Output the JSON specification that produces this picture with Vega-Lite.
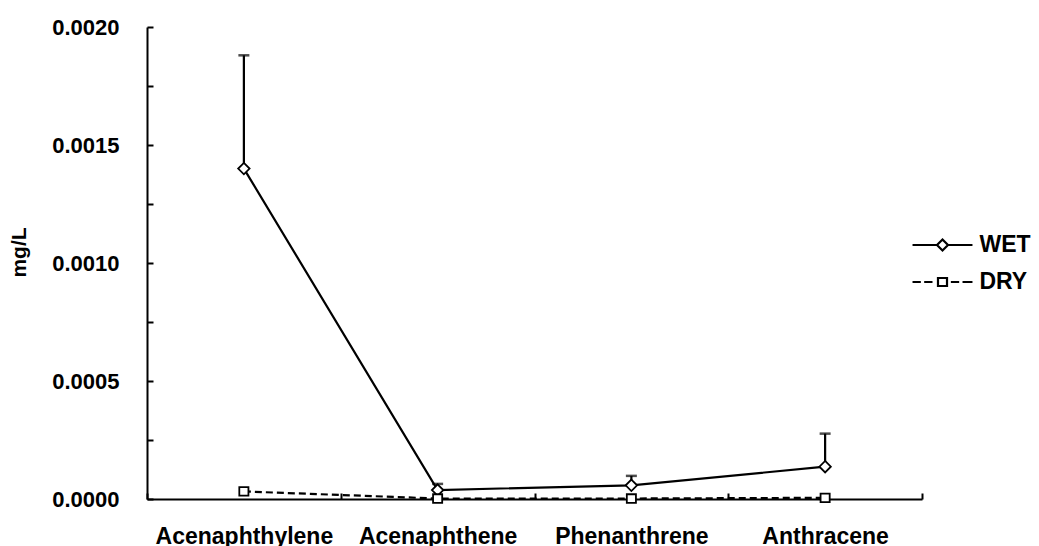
{
  "$schema": "https://vega.github.io/schema/vega-lite/v6.json",
  "width": 775,
  "height": 472,
  "autosize": {"type": "none"},
  "padding": {"left": 147, "top": 27, "right": 117, "bottom": 47},
  "background": "white",
  "config": {
    "view": {"stroke": null},
    "font": "Liberation Sans",
    "axis": {"grid": false, "domainColor": "black", "domainWidth": 2, "tickColor": "black", "tickWidth": 2, "labelColor": "black", "labelFontWeight": "bold", "labelFont": "Liberation Sans", "titleFont": "Liberation Sans", "titleColor": "black"}
  },
  "data": {
    "values": [
      {"compound": "Acenaphthylene", "series": "WET", "value": 0.0014, "upper": 0.00188},
      {"compound": "Acenaphthene", "series": "WET", "value": 0.000038, "upper": 0.000064},
      {"compound": "Phenanthrene", "series": "WET", "value": 0.000058, "upper": 0.000098},
      {"compound": "Anthracene", "series": "WET", "value": 0.000137, "upper": 0.000277},
      {"compound": "Acenaphthylene", "series": "DRY", "value": 0.000032},
      {"compound": "Acenaphthene", "series": "DRY", "value": 0.000002},
      {"compound": "Phenanthrene", "series": "DRY", "value": 0.000002},
      {"compound": "Anthracene", "series": "DRY", "value": 0.000005}
    ]
  },
  "encoding": {
    "x": {
      "field": "compound", "type": "nominal",
      "sort": ["Acenaphthylene", "Acenaphthene", "Phenanthrene", "Anthracene"],
      "scale": {"type": "band", "paddingInner": 0, "paddingOuter": 0},
      "axis": {"title": null, "labelAngle": 0, "labelFontSize": 23, "labelPadding": 32, "tickBand": "extent", "tickSize": -6, "labelBaseline": "top", "labelOverlap": false}
    },
    "y": {
      "field": "value", "type": "quantitative",
      "scale": {"domain": [0, 0.002], "nice": false, "zero": true},
      "axis": {
        "title": "mg/L", "titleFontSize": 21, "titleFontWeight": "bold", "titleX": -118, "titleY": 225,
        "values": [0, 0.00025, 0.0005, 0.00075, 0.001, 0.00125, 0.0015, 0.00175, 0.002],
        "labelExpr": "indexof(['0.0000','0.0005','0.0010','0.0015','0.0020'], format(datum.value, '.4f')) >= 0 ? format(datum.value, '.4f') : ''",
        "labelFontSize": 22, "labelPadding": 34, "tickSize": -6
      }
    }
  },
  "layer": [
    {
      "transform": [{"filter": "datum.series === 'WET'"}],
      "mark": {"type": "line", "color": "black", "strokeWidth": 2.2},
      "encoding": {}
    },
    {
      "transform": [{"filter": "datum.series === 'DRY'"}],
      "mark": {"type": "line", "color": "black", "strokeWidth": 2.2, "strokeDash": [7, 4]},
      "encoding": {}
    },
    {
      "transform": [{"filter": "isValid(datum.upper)"}],
      "mark": {"type": "rule", "color": "black", "strokeWidth": 2.2},
      "encoding": {
        "y2": {"field": "upper"}
      }
    },
    {
      "transform": [{"filter": "isValid(datum.upper)"}],
      "mark": {"type": "tick", "color": "black", "orient": "horizontal", "size": 11, "thickness": 2.5},
      "encoding": {
        "y": {"field": "upper", "type": "quantitative"}
      }
    },
    {
      "mark": {"type": "point", "filled": false, "fill": "white", "stroke": "black", "strokeWidth": 1.8, "size": 130, "opacity": 1},
      "encoding": {
        "shape": {
          "field": "series", "type": "nominal",
          "scale": {"domain": ["WET", "DRY"], "range": ["M0,-1L1,0L0,1L-1,0Z", "M-0.8,-0.75L0.8,-0.75L0.8,0.75L-0.8,0.75Z"]},
          "legend": null
        }
      }
    },
    {
      "transform": [{"filter": "datum.series === 'none'"}],
      "mark": {"type": "point", "filled": false, "color": "black", "strokeWidth": 2.2, "size": 121, "opacity": 1},
      "encoding": {
        "shape": {
          "field": "series", "type": "nominal",
          "scale": {"domain": ["WET", "DRY"], "range": ["M-5.45,0L-1,0M1,0L5.45,0M0,-1L1,0L0,1L-1,0Z", "M-5.45,0L-3.94,0M-3.33,0L-1.82,0M1.52,0L3.03,0M3.64,0L5.45,0M-0.82,-0.73L0.82,-0.73L0.82,0.73L-0.82,0.73Z"]},
          "legend": {
            "title": null, "orient": "none", "legendX": 784, "legendY": 206.5,
            "labelFontSize": 23, "labelFontWeight": "bold", "labelColor": "black", "labelOffset": 25.5,
            "padding": 0, "rowPadding": 13, "symbolSize": 121, "symbolStrokeWidth": 2.2, "symbolStrokeColor": "black", "symbolOpacity": 1
          }
        }
      }
    }
  ],
  "resolve": {"scale": {"shape": "independent"}, "legend": {"shape": "independent"}}
}
